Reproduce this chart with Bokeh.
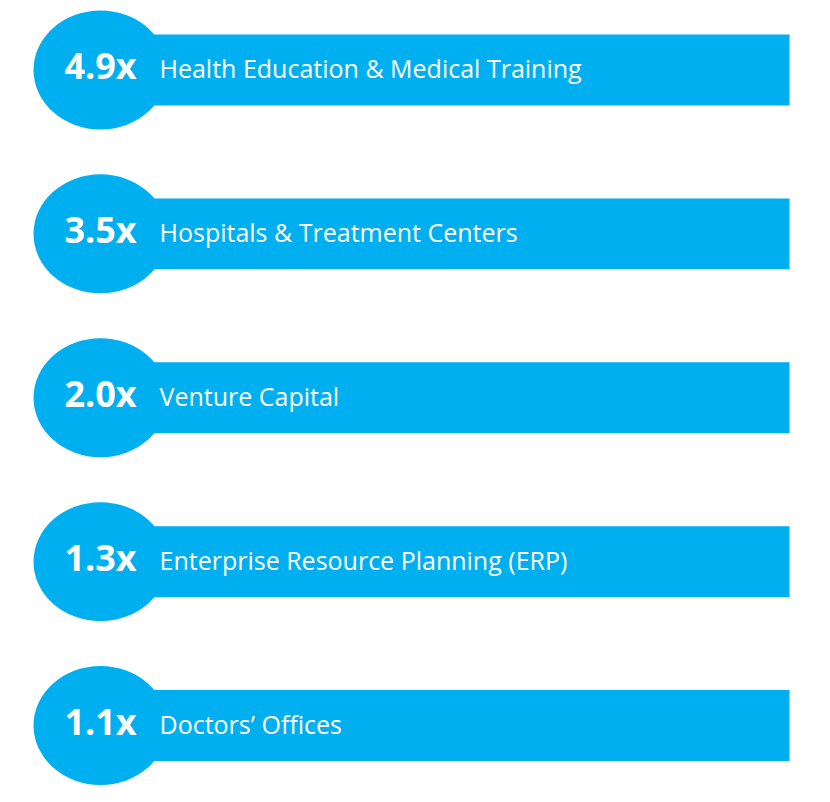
from bokeh.core.properties import value
from bokeh.embed import file_html
from bokeh.models import ColumnDataSource, Range1d
from bokeh.plotting import figure
from bokeh.resources import INLINE

# multipliers and their categories, top to bottom
multipliers = ["4.9x", "3.5x", "2.0x", "1.3x", "1.1x"]
categories = [
    "Health Education & Medical Training",
    "Hospitals & Treatment Centers",
    "Venture Capital",
    "Enterprise Resource Planning (ERP)",
    "Doctors\u2019 Offices",
]
rows = list(range(len(categories)))

BLUE = "#00AFEF"

src = ColumnDataSource(data=dict(row=rows, mult=multipliers, cat=categories))

# x in picture pixels, y in row units (row 0 at the top)
p = figure(width=814, height=786, output_backend="svg", toolbar_location=None,
           x_range=Range1d(0, 814), y_range=Range1d(4.372, -0.424),
           min_border=0)
p.axis.visible = False
p.grid.visible = False
p.outline_line_color = None
p.background_fill_color = "white"
p.border_fill_color = "white"

# bar behind each multiplier
p.hbar(y="row", left=150, right=789, height=0.433, source=src,
       fill_color=BLUE, line_color=None)
# bubble on the left
p.ellipse(x=100, y="row", width=134, height=119, width_units="screen",
          height_units="screen", source=src, fill_color=BLUE, line_color=None)

p.text(x=100, y="row", text="mult", source=src, text_align="center",
       text_baseline="middle", y_offset=-4, text_color="white",
       text_font_size="36px", text_font=value("Open Sans"),
       text_font_style="bold")
p.text(x=159, y="row", text="cat", source=src, text_align="left",
       text_baseline="middle", y_offset=-2, text_color="white",
       text_font_size="25px", text_font=value("Open Sans"))

open("out.html", "w").write(file_html(p, INLINE))
